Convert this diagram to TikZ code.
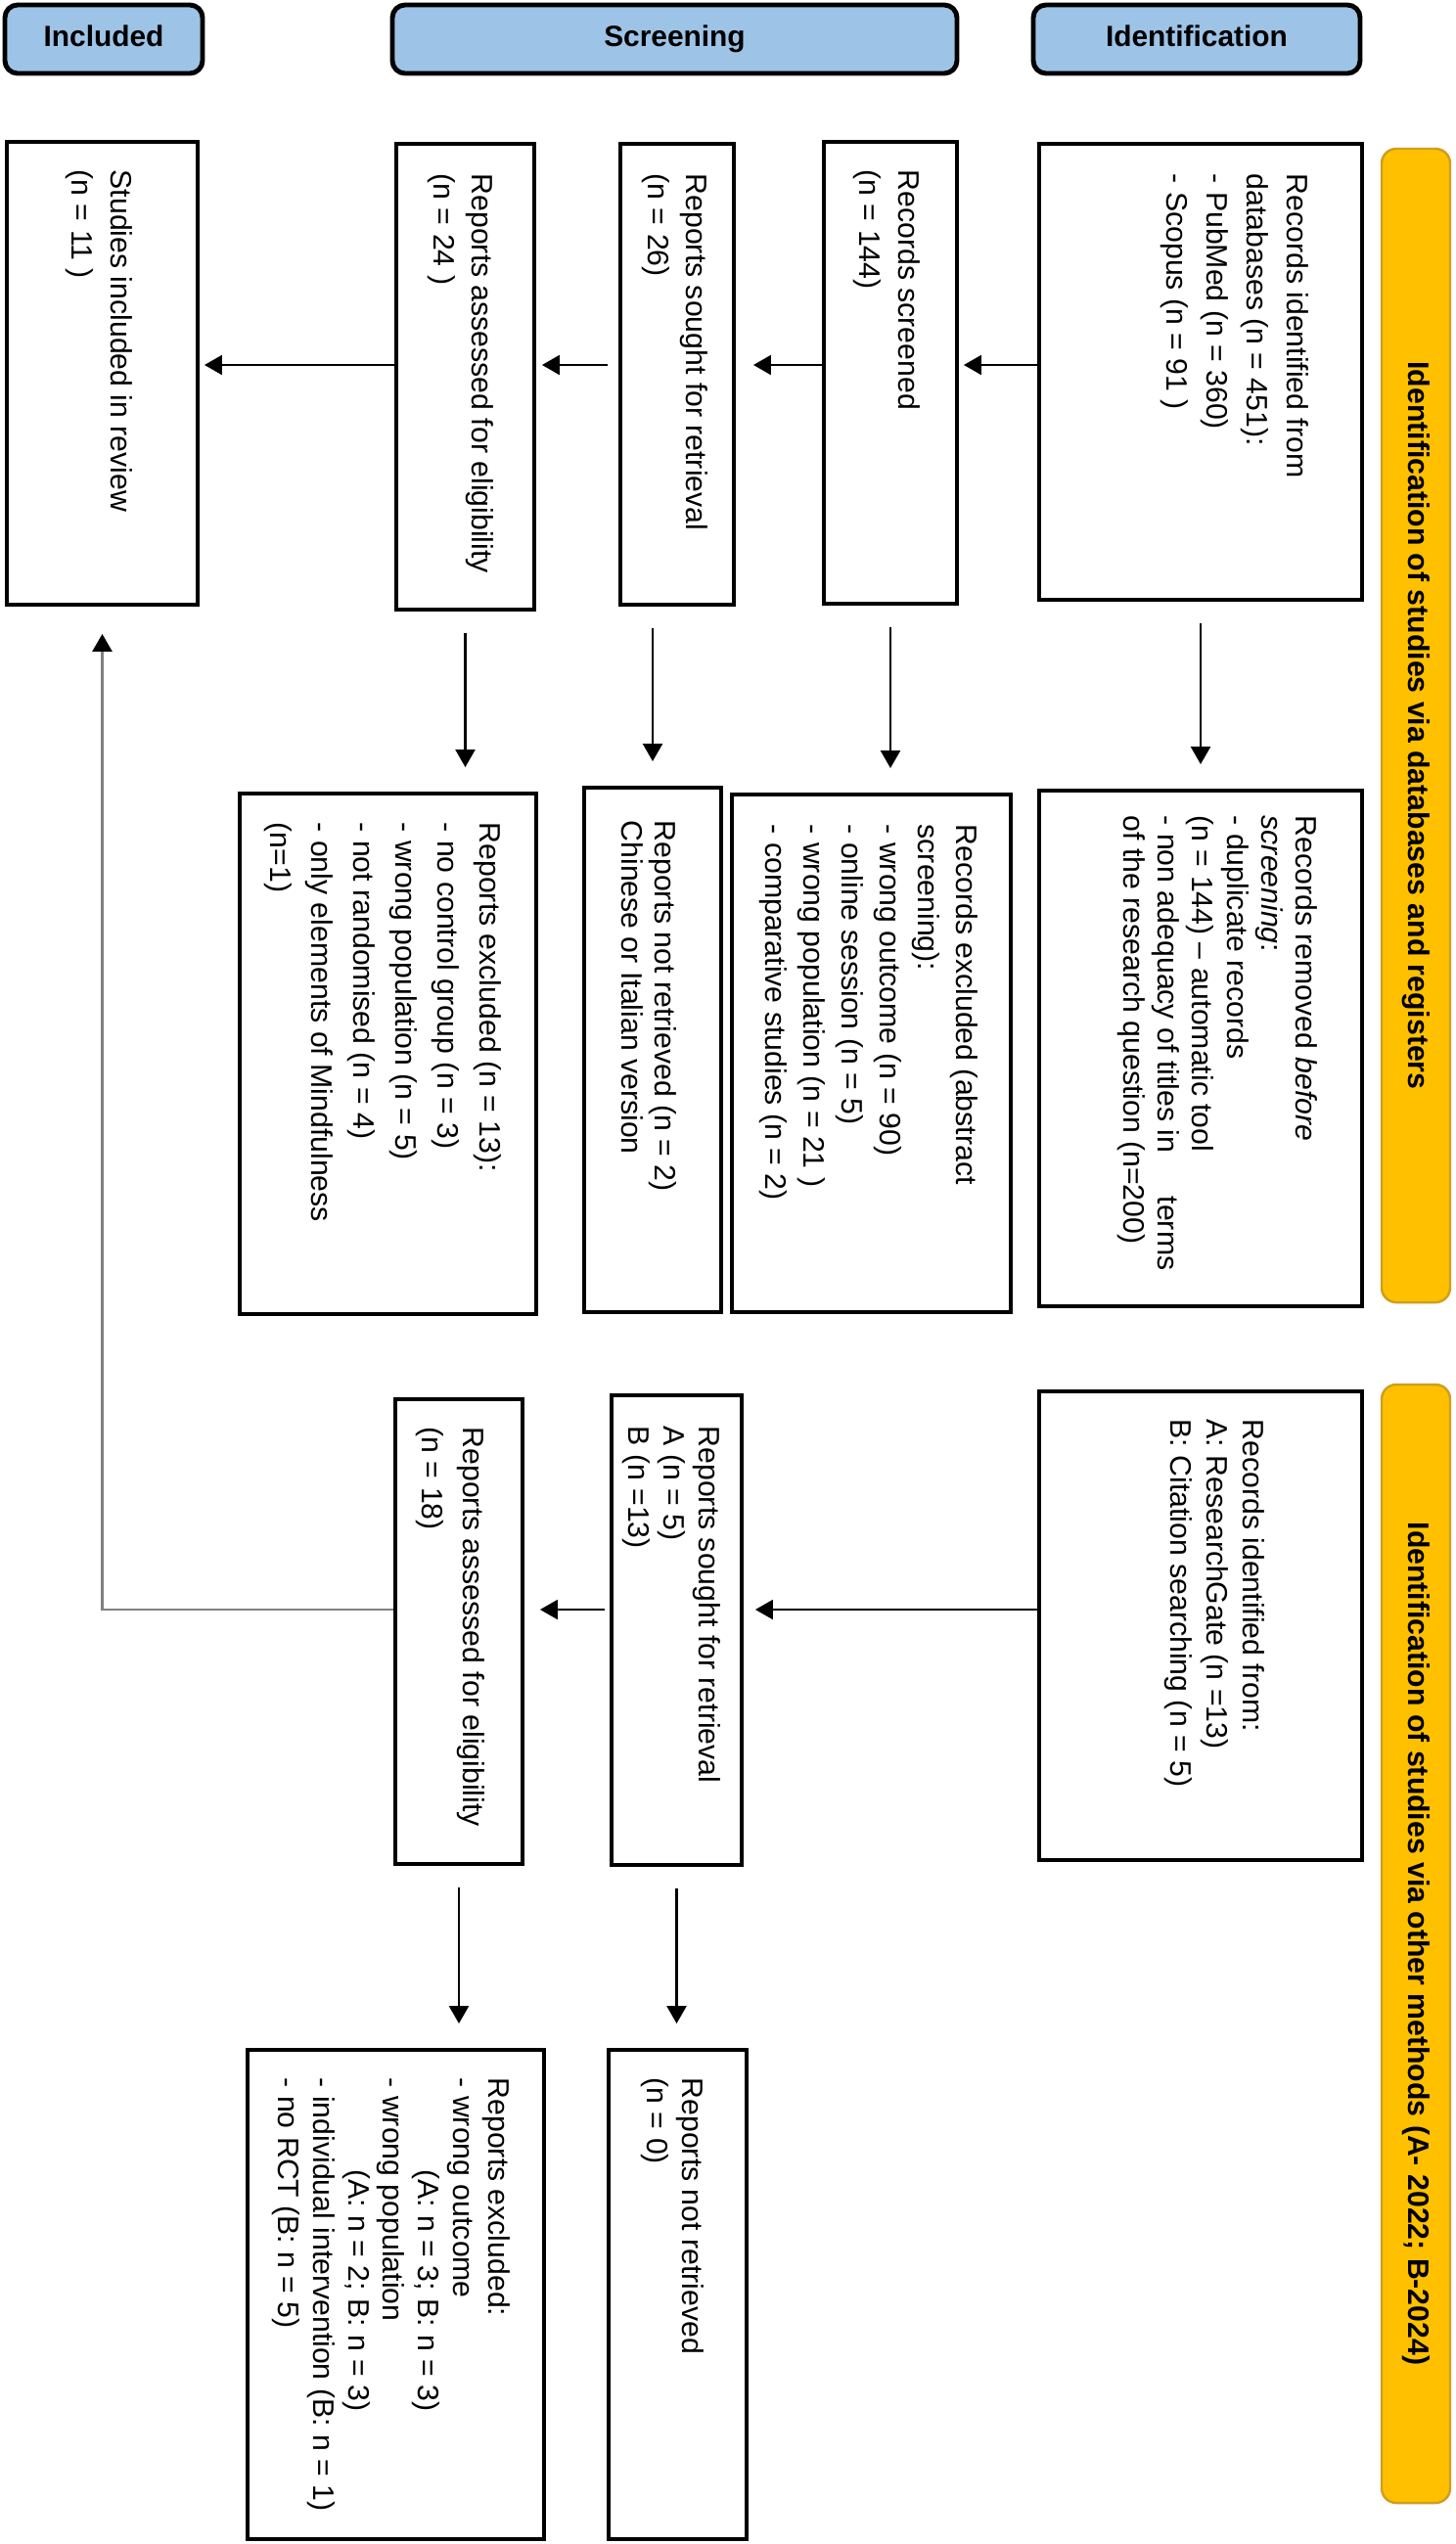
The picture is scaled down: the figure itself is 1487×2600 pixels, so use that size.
\documentclass[tikz,border=0pt]{standalone}
\usepackage{fontspec}
\setmainfont{Liberation Sans}
\usetikzlibrary{arrows.meta}
\usetikzlibrary{fit}

\definecolor{headblue}{RGB}{157,195,230}
\definecolor{bandyellow}{RGB}{255,192,0}
\definecolor{bandedge}{RGB}{208,158,30}
\definecolor{linkgray}{RGB}{128,128,128}

\begin{document}
\begin{tikzpicture}[x=0.1mm, y=-0.1mm, >={Triangle[length=1.8mm, width=2mm]},
        box/.style={draw, line width=1.1pt, inner sep=0pt},
        head/.style={draw, line width=1.4pt, fill=headblue, rounded corners=1.3mm, inner sep=0pt},
        headtxt/.style={inner sep=0pt, text height=6.2pt, text depth=1.8pt, font=\bfseries\fontsize{8.5}{10}\selectfont},
        band/.style={draw=bandedge, line width=0.7pt, fill=bandyellow, rounded corners=1.5mm, inner sep=0pt},
        bandtxt/.style={rotate=-90, inner sep=0pt, font=\bfseries\fontsize{8.6}{10}\selectfont},
        txt/.style={rotate=-90, anchor=north west, align=left, inner sep=0pt, font=\fontsize{8.6}{#1}\selectfont},
        txt/.default=11.1,
        arr/.style={->, line width=0.6pt},
        vgap/.style={shorten <=2.2mm, shorten >=2.5mm}]
        \useasboundingbox (0,0) rectangle (1487,2600);

        % Phase headers
        \node[head, fit={(5,5) (207,75)}] (hIncl) {};
        \node[headtxt] (hIncl-t) at (hIncl.center) {Included};
        \node[head, fit={(401,5) (978,75)}] (hScr) {};
        \node[headtxt] (hScr-t) at (hScr.center) {Screening};
        \node[head, fit={(1056,5) (1390,75)}] (hId) {};
        \node[headtxt] (hId-t) at (hId.center) {Identification};

        % Side bands
        \node[band, fit={(1412,152) (1482,1331)}] (bandDb) {};
        \node[bandtxt] (bandDb-t) at (bandDb) {Identification of studies via databases and registers};
        \node[band, fit={(1412,1415) (1482,2558)}] (bandOth) {};
        \node[bandtxt] (bandOth-t) at (bandOth) {Identification of studies via other methods (A- 2022; B-2024)};

        % Databases: main row
        \node[box, fit={(1062,147) (1392,613)}] (idDb) {};
        \node[txt=11.7] (idDb-t) at (1338,177) {Records identified from\\databases (n = 451):\\- PubMed (n = 360)\\- Scopus (n = 91 )};
        \node[box, fit={(842,145) (978,617)}] (scrDb) {};
        \node[txt=11.4] (scrDb-t) at (941,173) {Records screened\\(n = 144)};
        \node[box, fit={(634,147) (750,618)}] (soughtDb) {};
        \node[txt] (soughtDb-t) at (724,177) {Reports sought for retrieval\\(n = 26)};
        \node[box, fit={(405,147) (546,623)}] (assDb) {};
        \node[txt] (assDb-t) at (505,177) {Reports assessed for eligibility\\(n = 24 )};
        \node[box, fit={(7,145) (202,618)}] (incl) {};
        \node[txt=11.4] (incl-t) at (136,173) {Studies included in review\\(n = 11 )};

        % Databases: exclusions
        \node[box, fit={(1062,808) (1392,1335)}] (removed) {};
        \node[txt=10] (removed-t) at (1347,833) {Records removed \textit{before}\\\textit{screening}:\\- duplicate records\\(n = 144) -- automatic tool\\- non adequacy of titles in\hspace{1.2em} terms\\of the research question (n=200)};
        \node[box, fit={(748,812) (1033,1341)}] (exclDb) {};
        \node[txt] (exclDb-t) at (1000,842) {Records excluded (abstract\\screening):\\- wrong outcome (n = 90)\\- online session (n = 5)\\- wrong population (n = 21 )\\- comparative studies (n = 2)};
        \node[box, fit={(597,805) (737,1341)}] (notRetDb) {};
        \node[txt=9.7] (notRetDb-t) at (692,838) {Reports not retrieved (n = 2)\\Chinese or Italian version};
        \node[box, fit={(245,811) (548,1343)}] (exclRep) {};
        \node[txt=12.2] (exclRep-t) at (513,840) {Reports excluded (n = 13):\\- no control group (n = 3)\\- wrong population (n = 5)\\- not randomised (n = 4)\\- only elements of Mindfulness\\(n=1)};

        % Other methods: main row
        \node[box, fit={(1062,1422) (1392,1901)}] (idOth) {};
        \node[txt=10.5] (idOth-t) at (1293,1450) {Records identified from:\\A: ResearchGate (n =13)\\B: Citation searching (n = 5)};
        \node[box, fit={(625,1426) (758,1906)}] (sought2) {};
        \node[txt=10.2] (sought2-t) at (737,1457) {Reports sought for retrieval\\A (n = 5)\\B (n =13)};
        \node[box, fit={(404,1430) (534,1905)}] (ass2) {};
        \node[txt=12] (ass2-t) at (496,1458) {Reports assessed for eligibility\\(n = 18)};

        % Other methods: exclusions
        \node[box, fit={(622,2095) (763,2595)}] (notRet2) {};
        \node[txt=10.2] (notRet2-t) at (720,2123) {Reports not retrieved\\(n = 0)};
        \node[box, fit={(253,2095) (556,2595)}] (exclRep2) {};
        \node[txt=10.2] (exclRep2-t) at (522,2123) {Reports excluded:\\- wrong outcome\\\hspace*{3.1em}(A: n = 3; B: n = 3)\\- wrong population\\\hspace*{3.1em}(A: n = 2; B: n = 3)\\- individual intervention (B: n = 1)\\- no RCT (B: n = 5)};

        % Arrows
        \coordinate (rowA) at (0,373);
        \coordinate (rowC) at (0,1645);
        \draw[arr, shorten >=0.5mm] (idDb.west |- rowA) -- (scrDb.east |- rowA);
        \draw[arr, shorten >=1.8mm] (scrDb.west |- rowA) -- (soughtDb.east |- rowA);
        \draw[arr, shorten <=1.1mm, shorten >=0.6mm] (soughtDb.west |- rowA) -- (assDb.east |- rowA);
        \draw[arr, shorten >=0.5mm] (assDb.west |- rowA) -- (incl.east |- rowA);
        \draw[arr, vgap] (idDb.south) -- (idDb.south |- removed.north);
        \draw[arr, vgap] (scrDb.south) -- (scrDb.south |- exclDb.north);
        \draw[arr, vgap] (notRetDb.north |- soughtDb.south) -- (notRetDb.north);
        \draw[arr, vgap] (assDb.south) -- (assDb.south |- exclRep.north);

        \draw[arr, shorten >=1.2mm] (idOth.west |- rowC) -- (sought2.east |- rowC);
        \draw[arr, shorten <=0.5mm, shorten >=1.6mm] (sought2.west |- rowC) -- (ass2.east |- rowC);
        \draw[arr, vgap] (sought2.south) -- (sought2.south |- notRet2.north);
        \draw[arr, vgap] (ass2.south) -- (ass2.south |- exclRep2.north);
        \draw[linkgray, line width=0.8pt, -{Triangle[length=1.8mm, width=2mm, color=black]}, shorten >=2.8mm] (ass2.west |- rowC) -| (incl.south); % back to included
\end{tikzpicture}
\end{document}
